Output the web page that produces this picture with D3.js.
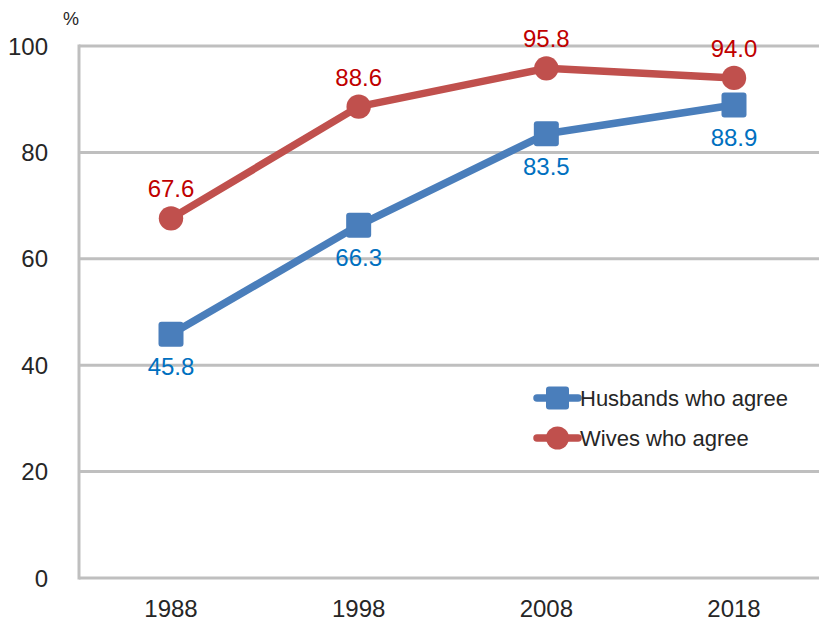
<!DOCTYPE html>
<html><head><meta charset="utf-8">
<script src="https://cdn.jsdelivr.net/npm/d3@7"></script>
<style>body{margin:0;background:#fff}svg{display:block;font-family:"Liberation Sans",Arial,sans-serif}</style>
</head><body>
<svg id="c" width="819" height="621"></svg>
<script>
const years = ["1988","1998","2008","2018"];
const husbands = [45.8, 66.3, 83.5, 88.9];
const wives = [67.6, 88.6, 95.8, 94.0];
const yTicks = [0,20,40,60,80,100];
const seriesNames = ["Husbands who agree","Wives who agree"];

const svg = d3.select("#c");
const x = d3.scalePoint().domain(years).range([171, 734]);
const y = d3.scaleLinear().domain([0,100]).range([578, 46]);
const grid = "#bfbfbf";

// gridlines
svg.append("g").selectAll("line").data(yTicks).join("line")
  .attr("x1", 79).attr("x2", 829)
  .attr("y1", d=>y(d)).attr("y2", d=>y(d))
  .attr("stroke", grid).attr("stroke-width", 3);
// y axis line
svg.append("line").attr("x1",79).attr("x2",79).attr("y1",y(100)-1.5).attr("y2",y(0)+1.5)
  .attr("stroke",grid).attr("stroke-width",3);

// y tick labels
svg.append("g").selectAll("text").data(yTicks).join("text")
  .attr("x", 48).attr("y", d=>y(d)).attr("dy","0.36em")
  .attr("text-anchor","end").attr("font-size",24).attr("fill","#262626")
  .text(d=>d);
svg.append("text").attr("x",71).attr("y",25).attr("text-anchor","middle")
  .attr("font-size",18).attr("fill","#262626").text("%");

// x tick labels
svg.append("g").selectAll("text").data(years).join("text")
  .attr("x", d=>x(d)).attr("y", 617).attr("text-anchor","middle")
  .attr("font-size",24).attr("fill","#262626").text(d=>d);

const line = d3.line().x((d,i)=>x(years[i])).y(d=>y(d));
const blue = "#4a7ebb", red = "#c0504d";

svg.append("path").datum(wives).attr("d",line).attr("fill","none")
  .attr("stroke",red).attr("stroke-width",7.5).attr("stroke-linejoin","round");
svg.append("path").datum(husbands).attr("d",line).attr("fill","none")
  .attr("stroke",blue).attr("stroke-width",7.5).attr("stroke-linejoin","round");

svg.append("g").selectAll("circle").data(wives).join("circle")
  .attr("cx",(d,i)=>x(years[i])).attr("cy",d=>y(d)).attr("r",12.2).attr("fill",red);
svg.append("g").selectAll("rect").data(husbands).join("rect")
  .attr("x",(d,i)=>x(years[i])-12.5).attr("y",d=>y(d)-12.5).attr("width",25).attr("height",25)
  .attr("rx",3).attr("fill",blue);

// data labels
svg.append("g").selectAll("text").data(wives).join("text")
  .attr("x",(d,i)=>x(years[i])).attr("y",d=>y(d)-21).attr("text-anchor","middle")
  .attr("font-size",24).attr("fill","#c00000").text(d=>d.toFixed(1));
svg.append("g").selectAll("text").data(husbands).join("text")
  .attr("x",(d,i)=>x(years[i])).attr("y",d=>y(d)+41).attr("text-anchor","middle")
  .attr("font-size",24).attr("fill","#0070c0").text(d=>d.toFixed(1));

// legend
const lg = svg.append("g");
[blue, red].forEach((c,i)=>{
  const ly = 398 + i*40;
  lg.append("line").attr("x1",537).attr("x2",578).attr("y1",ly).attr("y2",ly)
    .attr("stroke",c).attr("stroke-width",7.5).attr("stroke-linecap","round");
  if(i===0) lg.append("rect").attr("x",546).attr("y",ly-11.5).attr("width",23).attr("height",23).attr("rx",3).attr("fill",c);
  else lg.append("circle").attr("cx",557.5).attr("cy",ly).attr("r",11.5).attr("fill",c);
  lg.append("text").attr("x",580).attr("y",ly).attr("dy","0.36em").attr("font-size",22)
    .attr("fill","#262626").text(seriesNames[i]);
});
</script>
</body></html>
